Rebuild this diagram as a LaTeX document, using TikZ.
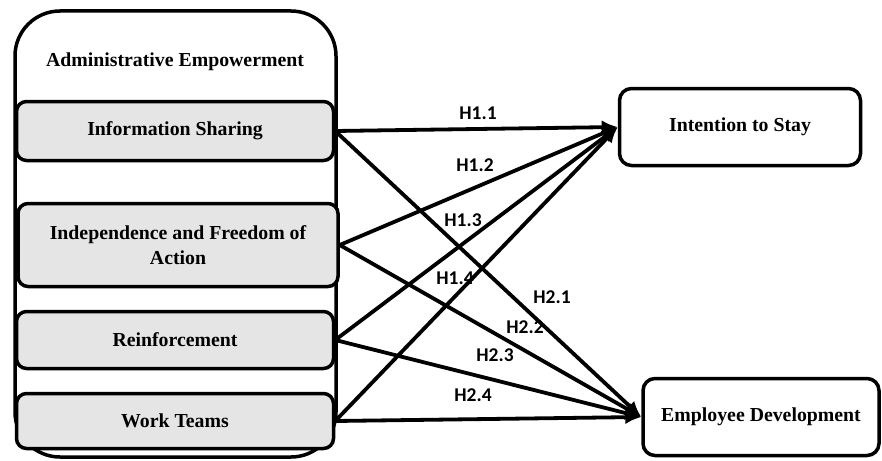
\documentclass[tikz,border=0pt]{standalone}
\usepackage{fontspec}
\setmainfont{Liberation Serif}
\newfontfamily\hypfont{Carlito}
\usetikzlibrary{arrows.meta}

\tikzset{
  outerbox/.style={draw, line width=3.5pt, rounded corners=45pt},
  factor/.style={draw, line width=3.5pt, rounded corners=10pt, fill=gray!20,
    font=\fontsize{19.8}{25}\selectfont\bfseries, align=center, inner sep=0pt},
  outcome/.style={draw, line width=3.5pt, rounded corners=12pt, fill=white,
    font=\fontsize{19.8}{25}\selectfont\bfseries, inner sep=0pt},
  hyp/.style={-{Latex[length=16pt,width=14pt]}, line width=3.8pt},
  hyplabel/.style={font=\hypfont\fontsize{19.5}{22}\selectfont\bfseries, inner sep=0pt},
}

\begin{document}
\begin{tikzpicture}[x=1pt, y=-1pt]
\useasboundingbox (0,0) rectangle (882,460);
%% outer frame
\draw[outerbox] (15,11) rectangle (336,457);
\node[font=\fontsize{19.8}{25}\selectfont\bfseries] (title) at (175,62) {Administrative Empowerment};
%% dimensions
\node[factor, minimum width=317pt, minimum height=59pt] (info) at (175,131) {Information Sharing};
\node[factor, minimum width=320pt, minimum height=83pt] (indep) at (178,245) {Independence and Freedom of\\Action};
\node[factor, minimum width=317pt, minimum height=57pt] (reinf) at (175,340) {Reinforcement};
\node[factor, minimum width=317pt, minimum height=55pt] (teams) at (175,421) {Work Teams};
%% outcomes
\node[outcome, minimum width=241pt, minimum height=77pt] (stay) at (740,127) {Intention to Stay};
\node[outcome, minimum width=236pt, minimum height=77pt] (devel) at (761,417) {Employee Development};
%% hypotheses
\draw[hyp] (info.east) -- (stay.west);
\draw[hyp] (indep.east) -- (stay.west);
\draw[hyp] (reinf.east) -- (stay.west);
\draw[hyp] (teams.east) -- (stay.west);
\draw[hyp] (info.east) -- (devel.west);
\draw[hyp] (indep.east) -- (devel.west);
\draw[hyp] (reinf.east) -- (devel.west);
\draw[hyp] (teams.east) -- (devel.west);
%% labels
\node[hyplabel] (h11) at (478,113) {H1.1};
\node[hyplabel] (h12) at (475,165) {H1.2};
\node[hyplabel] (h13) at (463,220) {H1.3};
\node[hyplabel] (h14) at (455,278) {H1.4};
\node[hyplabel] (h21) at (552,297) {H2.1};
\node[hyplabel] (h22) at (525,327) {H2.2};
\node[hyplabel] (h23) at (495,355) {H2.3};
\node[hyplabel] (h24) at (473,395) {H2.4};
\end{tikzpicture}
\end{document}
